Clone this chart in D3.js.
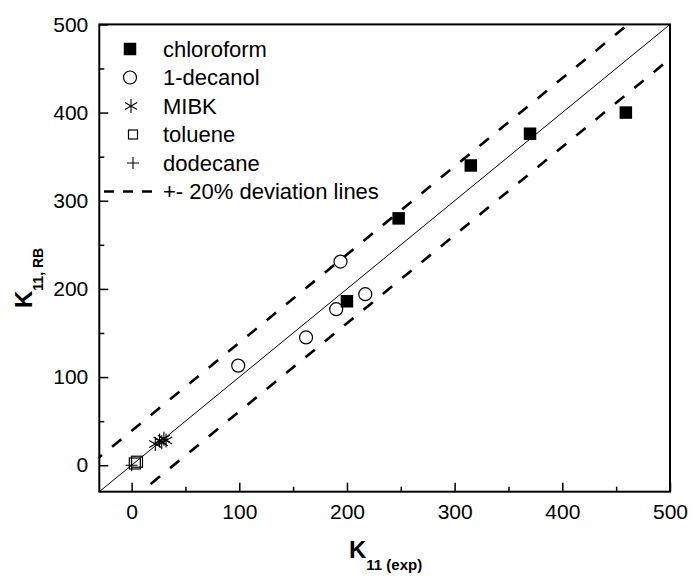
<!DOCTYPE html>
<html>
    <head>
        <style>
            body { margin: 0; background: white; }
            svg { display: block; }

            text {
                font-family: "Liberation Sans", Arial, sans-serif;
                fill: black;
            }
            .tick text { font-size: 21px; }
            .tick line { stroke: black; stroke-width: 1.5; }
            .domain { display: none; }

            rect.frame { fill: none; stroke: black; stroke-width: 2; }
            line.fit { stroke: black; stroke-width: 1; }
            line.dev { stroke: black; stroke-width: 2.6; stroke-dasharray: 12,13; }
            line.dev-legend { stroke: black; stroke-width: 2.6; stroke-dasharray: 10,9; }

            rect.filled { fill: black; stroke: none; }
            rect.open { fill: none; stroke: black; stroke-width: 1.2; }
            circle.open { fill: none; stroke: black; stroke-width: 1.2; }
            path.star, path.plus { fill: none; stroke: black; stroke-width: 1.1; }

            .legend text { font-size: 22px; dominant-baseline: central; }
            .title { font-weight: bold; }
        </style>

        <script type="text/javascript" src="https://cdn.jsdelivr.net/npm/d3@7"></script>
    </head>

    <body>
        <div id="canvas"></div>

        <script type="text/javascript">

            // values
            var chloroformX = [200, 248, 315, 370, 459];
            var chloroformY = [186, 280, 340, 376, 400];

            var decanolX = [99, 162, 190, 194, 217];
            var decanolY = [113, 145, 177, 231, 194];

            var mibkX = [22, 26, 28, 30, 32];
            var mibkY = [24, 28, 26, 30, 28];

            var tolueneX = [3, 5];
            var tolueneY = [2, 4];

            var dodecaneX = [0];
            var dodecaneY = [0];

            // the two dashed lines sit this far above / below y = x
            var deviation = 39;

            var majorTicks = [0, 100, 200, 300, 400, 500];
            var minorTicks = [50, 150, 250, 350, 450];
            var axisMin = -30, axisMax = 500;

            var legendLabels = ["chloroform", "1-decanol", "MIBK", "toluene", "dodecane", "+- 20% deviation lines"];

            var canvas_w = 694;
            var canvas_h = 576;
            var plot = { left: 99.3, right: 670, top: 24.4, bottom: 491.7 };

            var sq = 12.5;     // filled square side
            var osq = 11;      // open square side
            var circ_r = 6.5;
            var star_r = 7;
            var plus_r = 6;

            function zip(xs, ys) {
                return xs.map(function(d, i) { return [d, ys[i]]; });
            }

            function starPath(r) {
                var c = Math.cos(Math.PI / 6) * r, s = Math.sin(Math.PI / 6) * r;
                return "M0," + (-r) + "L0," + r +
                       "M" + (-c) + "," + (-s) + "L" + c + "," + s +
                       "M" + (-c) + "," + s + "L" + c + "," + (-s);
            }

            function plusPath(r) {
                return "M" + (-r) + ",0L" + r + ",0M0," + (-r) + "L0," + r;
            }

            var svg = d3.select("#canvas").append("svg")
                        .attr("width", canvas_w)
                        .attr("height", canvas_h);

            var x = d3.scaleLinear().domain([axisMin, axisMax]).range([plot.left, plot.right]);
            var y = d3.scaleLinear().domain([axisMin, axisMax]).range([plot.bottom, plot.top]);

            svg.append("clipPath").attr("id", "clip")
               .append("rect")
               .attr("x", plot.left).attr("y", plot.top)
               .attr("width", plot.right - plot.left)
               .attr("height", plot.bottom - plot.top);

            // axes with inward ticks
            svg.append("g")
               .attr("transform", "translate(0," + plot.bottom + ")")
               .call(d3.axisBottom(x).tickValues(majorTicks).tickSize(-9).tickSizeOuter(0).tickPadding(12));
            svg.append("g")
               .attr("transform", "translate(0," + plot.bottom + ")")
               .call(d3.axisBottom(x).tickValues(minorTicks).tickSize(-5).tickSizeOuter(0).tickFormat(""));
            svg.append("g")
               .attr("transform", "translate(" + plot.left + ",0)")
               .call(d3.axisLeft(y).tickValues(majorTicks).tickSize(-9).tickSizeOuter(0).tickPadding(11));
            svg.append("g")
               .attr("transform", "translate(" + plot.left + ",0)")
               .call(d3.axisLeft(y).tickValues(minorTicks).tickSize(-5).tickSizeOuter(0).tickFormat(""));

            svg.selectAll("g.tick text").attr("font-family", null).attr("font-size", null);

            svg.append("rect").attr("class", "frame")
               .attr("x", plot.left).attr("y", plot.top)
               .attr("width", plot.right - plot.left)
               .attr("height", plot.bottom - plot.top);

            // reference lines
            var lines_g = svg.append("g").attr("clip-path", "url(#clip)");
            lines_g.append("line").attr("class", "fit")
                   .attr("x1", x(axisMin)).attr("y1", y(axisMin))
                   .attr("x2", x(axisMax)).attr("y2", y(axisMax));
            [deviation, -deviation].forEach(function(off) {
                lines_g.append("line").attr("class", "dev")
                       .attr("x1", x(axisMin - 60)).attr("y1", y(axisMin - 60 + off))
                       .attr("x2", x(axisMax + 60)).attr("y2", y(axisMax + 60 + off));
            });

            // data marks
            var pts = svg.append("g");

            pts.selectAll("rect.chl").data(zip(chloroformX, chloroformY)).enter()
               .append("rect").attr("class", "filled")
               .attr("x", function(d) { return x(d[0]) - sq / 2; })
               .attr("y", function(d) { return y(d[1]) - sq / 2; })
               .attr("width", sq).attr("height", sq);

            pts.selectAll("circle").data(zip(decanolX, decanolY)).enter()
               .append("circle").attr("class", "open")
               .attr("cx", function(d) { return x(d[0]); })
               .attr("cy", function(d) { return y(d[1]); })
               .attr("r", circ_r);

            pts.selectAll("path.star").data(zip(mibkX, mibkY)).enter()
               .append("path").attr("class", "star")
               .attr("d", starPath(star_r))
               .attr("transform", function(d) { return "translate(" + x(d[0]) + "," + y(d[1]) + ")"; });

            pts.selectAll("path.plus").data(zip(dodecaneX, dodecaneY)).enter()
               .append("path").attr("class", "plus")
               .attr("d", plusPath(plus_r))
               .attr("transform", function(d) { return "translate(" + x(d[0]) + "," + y(d[1]) + ")"; });

            pts.selectAll("rect.tol").data(zip(tolueneX, tolueneY)).enter()
               .append("rect").attr("class", "open")
               .attr("x", function(d) { return x(d[0]) - osq / 2; })
               .attr("y", function(d) { return y(d[1]) - osq / 2; })
               .attr("width", osq).attr("height", osq);

            // legend
            var leg = svg.append("g").attr("class", "legend");
            var leg_x = 130, leg_text_x = 163, leg_y0 = 49, leg_dy = 28.5;

            legendLabels.forEach(function(label, i) {
                var ly = leg_y0 + i * leg_dy;
                leg.append("text").attr("x", leg_text_x).attr("y", ly).text(label);

                if (i == 0) {
                    leg.append("rect").attr("class", "filled")
                       .attr("x", leg_x - sq / 2).attr("y", ly - sq / 2)
                       .attr("width", sq).attr("height", sq);
                } else if (i == 1) {
                    leg.append("circle").attr("class", "open")
                       .attr("cx", leg_x).attr("cy", ly).attr("r", circ_r);
                } else if (i == 2) {
                    leg.append("path").attr("class", "star").attr("d", starPath(star_r))
                       .attr("transform", "translate(" + (leg_x + 1) + "," + ly + ")");
                } else if (i == 3) {
                    leg.append("rect").attr("class", "open")
                       .attr("x", leg_x + 3 - 4.5).attr("y", ly - 4.5)
                       .attr("width", 9).attr("height", 9);
                } else if (i == 4) {
                    leg.append("path").attr("class", "plus").attr("d", plusPath(plus_r))
                       .attr("transform", "translate(" + (leg_x + 3) + "," + ly + ")");
                } else {
                    leg.append("line").attr("class", "dev-legend")
                       .attr("x1", 104).attr("x2", 153)
                       .attr("y1", ly).attr("y2", ly);
                }
            });

            // axis titles
            var xt = svg.append("text").attr("class", "title")
                        .attr("x", 349).attr("y", 558);
            xt.append("tspan").attr("font-size", 24).text("K");
            xt.append("tspan").attr("font-size", 15).attr("dy", 12).text("11 (exp)");

            var yt = svg.append("text").attr("class", "title")
                        .attr("transform", "translate(32,308) rotate(-90)");
            yt.append("tspan").attr("font-size", 24).text("K");
            yt.append("tspan").attr("font-size", 14).attr("dy", 11).text("11, RB");

        </script>
    </body>
</html>
